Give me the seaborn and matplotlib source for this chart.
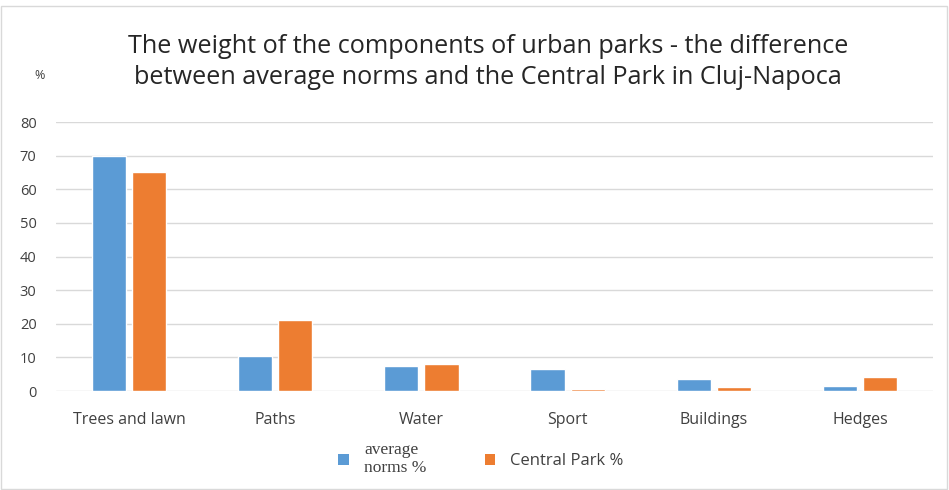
import matplotlib
matplotlib.use("Agg")
import matplotlib.pyplot as plt
import seaborn as sns
import pandas as pd
from matplotlib.patches import Rectangle, Patch

categories = ["Trees and lawn", "Paths", "Water", "Sport", "Buildings", "Hedges"]
average_norms = [70, 10.5, 7.3, 6.4, 3.5, 1.6]
central_park = [65, 21, 7.9, 0.6, 1.2, 4.1]
series_names = ["average\nnorms %", "Central Park %"]
y_ticks = [0, 10, 20, 30, 40, 50, 60, 70, 80]
title = ("The weight of the components of urban parks - the difference\n"
         "between average norms and the Central Park in Cluj-Napoca")

df = pd.DataFrame({
    "category": categories * 2,
    "value": average_norms + central_park,
    "series": [series_names[0]] * len(categories) + [series_names[1]] * len(categories),
})

sns.set_theme(style="white")
plt.rcParams["font.family"] = ["Open Sans", "DejaVu Sans"]

fig = plt.figure(figsize=(9.49, 4.90), dpi=100)
ax = fig.add_axes([56 / 949, 1 - 391 / 490, (933 - 56) / 949, (391 - 122) / 490])

palette = {series_names[0]: "#5B9BD5", series_names[1]: "#ED7D31"}
sns.barplot(data=df, x="category", y="value", hue="series", palette=palette,
            width=0.55, gap=0.15, ax=ax, legend=False, saturation=1)

ax.set_ylim(0, 80)
ax.set_yticks(y_ticks)
ax.set_xlim(-0.5, len(categories) - 0.5)
ax.yaxis.grid(True, color="#d9d9d9", linewidth=1)
ax.set_axisbelow(True)
for s in ax.spines.values():
    s.set_visible(False)
ax.set_xlabel("")
ax.set_ylabel("")
ax.tick_params(axis="both", length=0, labelsize=10.5, colors="#404040")
ax.tick_params(axis="x", pad=15, labelsize=11.5)
ax.tick_params(axis="y", pad=14)

fig.text(488 / 949, 1 - 62 / 490, title, ha="center", va="center",
         fontsize=18.2, color="#262626", linespacing=1.35)
fig.text(40 / 949, 1 - 75 / 490, "%", ha="center", va="center",
         fontsize=9, color="#404040")

handles = [Patch(facecolor=palette[n], edgecolor="none") for n in series_names]
leg = fig.legend(handles, series_names, loc="center", ncol=2,
                 bbox_to_anchor=(481 / 949, 1 - 459 / 490), frameon=False,
                 fontsize=12, handlelength=0.65, handleheight=0.65,
                 columnspacing=3.5, handletextpad=0.9)
t0 = leg.get_texts()[0]
t0.set_fontfamily(["Liberation Serif", "DejaVu Serif"])
t0.set_fontsize(12.5)
for t in leg.get_texts():
    t.set_color("#404040")

fig.patches.append(Rectangle((1 / 949, 1 / 490), 946 / 949, 483 / 490,
                             transform=fig.transFigure, fill=False,
                             edgecolor="#d9d9d9", linewidth=1))

fig.savefig("out.png", dpi=100)
